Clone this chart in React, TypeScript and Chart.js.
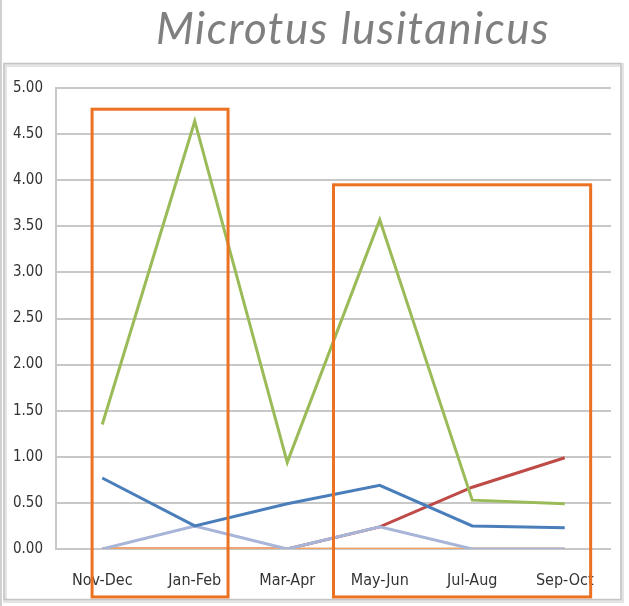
import React, { useEffect, useRef } from 'react';
import { Chart, registerables } from 'chart.js';

Chart.register(...registerables);

const TITLE = 'Microtus lusitanicus';
const categories = ['Nov-Dec', 'Jan-Feb', 'Mar-Apr', 'May-Jun', 'Jul-Aug', 'Sep-Oct'];
const greenSeries = [1.35, 4.64, 0.94, 3.57, 0.53, 0.49];
const blueSeries = [0.77, 0.25, 0.49, 0.69, 0.25, 0.23];
const lavenderSeries = [0, 0.25, 0, 0.24, 0, 0];
const orangeSeries = [0, 0, 0, 0, 0, 0];
const redSeries = [0, 0, 0, 0.24, 0.67, 0.99];
const yMin = 0;
const yMax = 5;
const yStep = 0.5;
// highlight rectangles in data units (x = category index, y = value)
const boxX0 = [-0.11, 2.5];
const boxX1 = [1.36, 5.28];
const boxYTop = [4.77, 3.95];
const boxYBottom = [-0.52, -0.52];

const TICK_FONT = "'Liberation Sans Narrow', 'DejaVu Sans Condensed', 'Liberation Sans', sans-serif";

const decorPlugin = {
  id: 'decor',
  beforeDraw(chart: any) {
    const { ctx, width, height } = chart;
    ctx.save();
    ctx.fillStyle = '#ffffff';
    ctx.fillRect(0, 0, width, height);
    // left edge line
    ctx.strokeStyle = '#d0d0d0';
    ctx.lineWidth = 2;
    ctx.beginPath();
    ctx.moveTo(1, 0);
    ctx.lineTo(1, height);
    ctx.stroke();
    // chart frame with soft shadow
    ctx.strokeStyle = '#e4e4e4';
    ctx.lineWidth = 4;
    ctx.strokeRect(5, 65, 617, 536);
    ctx.strokeStyle = '#c4c4c4';
    ctx.lineWidth = 1.5;
    ctx.strokeRect(4, 63.5, 617, 536);
    // title
    ctx.fillStyle = '#7f7f7f';
    ctx.font = "italic 44px Lato, 'Open Sans', sans-serif";
    try { (ctx as any).letterSpacing = '1.5px'; } catch (e) { /* ignore */ }
    ctx.textAlign = 'center';
    ctx.textBaseline = 'alphabetic';
    ctx.fillText(TITLE, 353, 44);
    try { (ctx as any).letterSpacing = '0px'; } catch (e) { /* ignore */ }
    ctx.restore();
  },
  afterDatasetsDraw(chart: any) {
    const { ctx } = chart;
    const xs = chart.scales.x;
    const ys = chart.scales.y;
    ctx.save();
    ctx.strokeStyle = '#ec7121';
    ctx.lineWidth = 3;
    for (let i = 0; i < boxX0.length; i++) {
      const l = xs.getPixelForValue(boxX0[i]);
      const r = xs.getPixelForValue(boxX1[i]);
      const t = ys.getPixelForValue(boxYTop[i]);
      const b = ys.getPixelForValue(boxYBottom[i]);
      ctx.strokeRect(l, t, r - l, b - t);
    }
    ctx.restore();
  },
};

export default function App() {
  const ref = useRef<HTMLCanvasElement | null>(null);
  useEffect(() => {
    if (!ref.current) return;
    const mk = (data: number[], color: string, order: number) => ({
      data,
      borderColor: color,
      backgroundColor: color,
      borderWidth: 3,
      pointRadius: 0,
      tension: 0,
      fill: false,
      order,
    });
    const chart = new Chart(ref.current, {
      type: 'line',
      data: {
        labels: categories,
        datasets: [
          mk(greenSeries, '#9bbb59', 0),
          mk(blueSeries, '#4a7ebb', 1),
          mk(lavenderSeries, '#a7b5d9', 2),
          mk(orangeSeries, '#f2a466', 3),
          mk(redSeries, '#be4b48', 4),
        ],
      },
      options: {
        responsive: false,
        animation: false,
        layout: { padding: { top: 88, right: 18, left: 0, bottom: 0 } },
        plugins: {
          legend: { display: false },
          tooltip: { enabled: false },
          title: { display: false },
        },
        scales: {
          x: {
            offset: true,
            grid: { display: false, drawTicks: false },
            border: { display: false },
            ticks: {
              font: { family: TICK_FONT, size: 16 },
              color: '#333333',
              padding: 22,
              maxRotation: 0,
              autoSkip: false,
            },
            afterFit: (s: any) => { s.height = 57; },
          },
          y: {
            min: yMin,
            max: yMax,
            grid: { color: '#c8c8c8', lineWidth: 2, drawTicks: false },
            border: { display: true, color: '#c8c8c8', width: 2 },
            ticks: {
              stepSize: yStep,
              font: { family: TICK_FONT, size: 15 },
              color: '#333333',
              padding: 13,
              callback: (v: any) => Number(v).toFixed(2),
            },
            afterFit: (s: any) => { s.width = 56; },
          },
        },
      },
      plugins: [decorPlugin],
    });
    return () => chart.destroy();
  }, []);
  return (
    <div style={{ position: 'absolute', left: 0, top: 0, width: 629, height: 606 }}>
      <canvas ref={ref} width={629} height={606} style={{ width: 629, height: 606, display: 'block' }} />
    </div>
  );
}
